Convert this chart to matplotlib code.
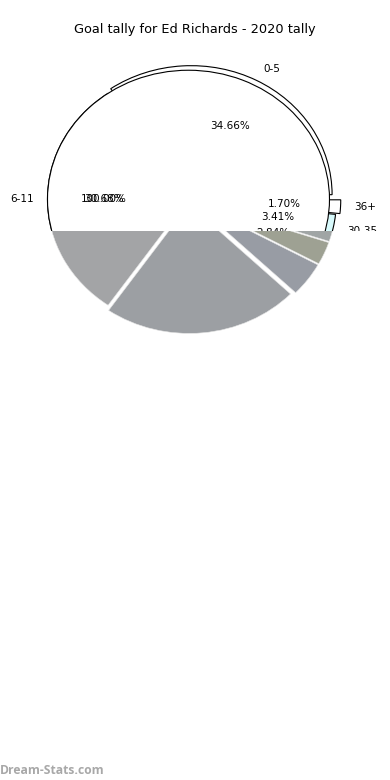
import matplotlib.pyplot as plt
from matplotlib.patches import Rectangle

labels = ['0-5', '6-11', '12-17', '18-23', '24-29', '30-35', '36+']
goals = [122, 108, 79, 15, 10, 12, 6]

explode = [0.04, 0, 0.04, 0.05, 0.05, 0.05, 0.08]
top_colors = ['white', 'white', 'white', 'white', 'white', '#d8fafc', 'white']
shade_colors = ['#a3a4a6', '#a3a4a6', '#9c9fa3', '#989ca4', '#9ea193', '#a0a5a5', '#a3a5a6']

CUT = -0.246  # where the white part stops and the grey part starts

fig = plt.figure(figsize=(3.9, 7.8), dpi=100)
ax = fig.add_axes([0.0314, 0.5378, 0.9038, 0.4135])

# grey lower half
low, _ = ax.pie(goals, explode=explode, colors=shade_colors, startangle=0,
                wedgeprops=dict(edgecolor='#e4e4e4', linewidth=0.4))
below = Rectangle((-2, -2), 4, 2 + CUT, transform=ax.transData)
for w in low:
    w.set_clip_on(True)
    w.set_clip_path(below)

# white upper half with labels
wedges, texts, pcts = ax.pie(goals, explode=explode, labels=labels, colors=top_colors,
                             autopct='%.2f%%', startangle=0,
                             wedgeprops=dict(edgecolor='black', linewidth=0.8),
                             textprops=dict(fontsize=7.5))
disk, _, disk_txt = ax.pie([1], colors=['white'], autopct='%.2f%%', startangle=0,
                           wedgeprops=dict(edgecolor='black', linewidth=0.8),
                           textprops=dict(fontsize=7.5))
above = Rectangle((-2, CUT), 4, 4, transform=ax.transData)
for a in wedges + texts + pcts + disk + disk_txt:
    a.set_clip_on(True)
    a.set_clip_path(above)

ax.set_aspect('auto')
ax.set_xlim(-1.25, 1.25)
ax.set_ylim(-1.25, 1.25)

fig.text(0.5, 1 - 30 / 780, 'Goal tally for Ed Richards - 2020 tally',
         ha='center', va='center', fontsize=9.3)
fig.text(0.0, 1 - 770 / 780, 'Dream-Stats.com', ha='left', va='center',
         fontsize=8.7, fontweight='bold', color='#a8a8a8', family='Open Sans')

fig.savefig('out.png')
